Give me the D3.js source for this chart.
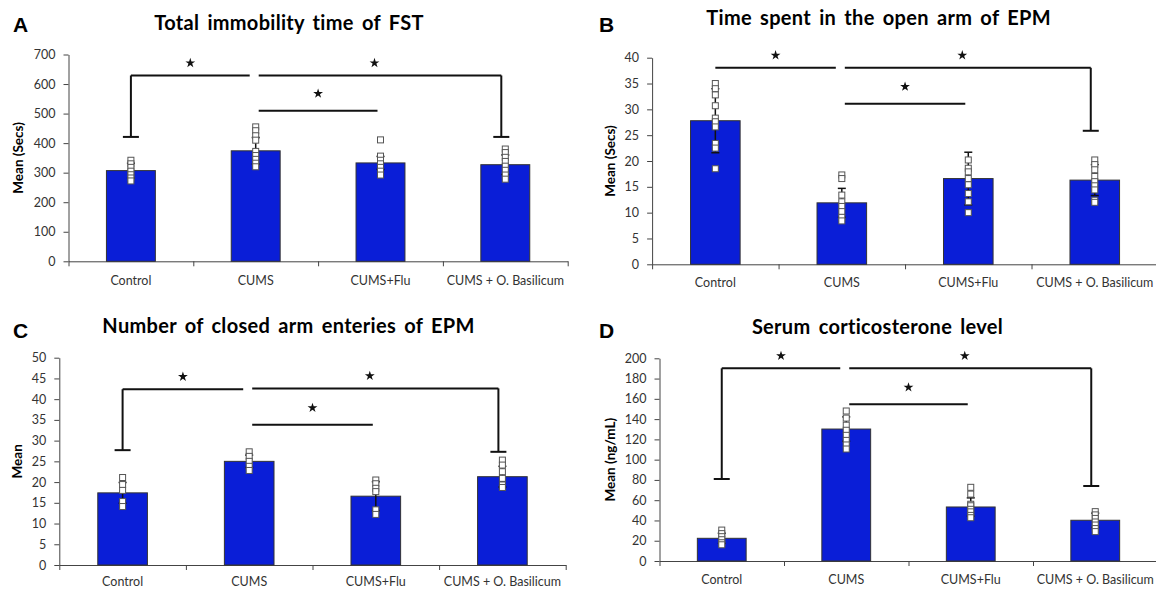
<!DOCTYPE html>
<html>
<head>
<meta charset="utf-8">
<script src="https://cdn.jsdelivr.net/npm/d3@7"></script>
<style>
body{margin:0;background:#fff}
svg{display:block;font-family:Lato,"Open Sans",sans-serif}
</style>
</head>
<body>
<svg width="1156" height="589"></svg>
<script>
const categories = ['Control', 'CUMS', 'CUMS+Flu', 'CUMS + O. Basilicum'];

// A - total immobility time of FST (secs)
const fstMeans = [307, 374, 333, 327];
const fstSD = [25, 45, 22, 33];
const fstPoints = [
  [342, 330, 318, 305, 293, 282, 272],
  [455, 442, 425, 410, 372, 358, 345, 332, 320],
  [411, 356, 342, 330, 318, 305, 292],
  [380, 368, 352, 338, 322, 308, 292, 278]
];
const fstTicks = [0, 100, 200, 300, 400, 500, 600, 700];
const fstBrackets = [
  {a: 0, b: 1, level: 629, capA: 421, kind: 'left'},
  {a: 1, b: 3, level: 629, capB: 421, kind: 'right'},
  {a: 1, b: 2, level: 510, kind: 'mid'}
];

// B - time spent in the open arm of EPM (secs)
const openMeans = [27.8, 11.9, 16.6, 16.3];
const openSD = [6.2, 2.8, 5.1, 3.0];
const openPoints = [
  [35, 34, 32.8, 30.7, 28.3, 27.6, 26.6, 23.4, 22.5, 18.5],
  [17.3, 16.6, 13.4, 12.1, 11.2, 10.2, 9.1, 8.4],
  [20.2, 18.6, 17.9, 16.6, 15.4, 13.7, 12.1, 10.0],
  [20.2, 19.3, 18.3, 17.0, 16.0, 15.2, 14.4, 12.4, 12.0]
];
const openTicks = [0, 5, 10, 15, 20, 25, 30, 35, 40];
const openBrackets = [
  {a: 0, b: 1, level: 38.05, kind: 'left'},
  {a: 1, b: 3, level: 38.05, capB: 25.85, kind: 'right'},
  {a: 1, b: 2, level: 31.1, kind: 'mid'}
];

// C - number of closed arm entries of EPM
const closedMeans = [17.4, 25.0, 16.6, 21.3];
const closedSD = [2.5, 1.5, 3.5, 2.5];
const closedPoints = [
  [21.1, 19.4, 18.0, 15.3, 14.1],
  [27.3, 26.2, 25.0, 23.8, 22.8],
  [20.5, 19.6, 18.5, 17.7, 13.3, 12.2],
  [25.3, 24.1, 22.5, 20.9, 19.3, 18.7]
];
const closedTicks = [0, 5, 10, 15, 20, 25, 30, 35, 40, 45, 50];
const closedBrackets = [
  {a: 0, b: 1, level: 42.4, capA: 27.7, kind: 'left'},
  {a: 1, b: 3, level: 42.6, capB: 27.3, kind: 'right'},
  {a: 1, b: 2, level: 33.8, kind: 'mid'}
];

// D - serum corticosterone (ng/mL)
const cortMeans = [22.4, 130.2, 53.3, 40.2];
const cortSD = [5, 12, 9, 7];
const cortPoints = [
  [30.5, 27, 24, 21, 18, 16],
  [148, 141, 134, 129, 124, 119, 114.5, 110.5],
  [72.7, 66, 56, 54.5, 51, 48.5, 45, 42.7],
  [48.7, 45.5, 42, 38.5, 35.5, 32, 29]
];
const cortTicks = [0, 20, 40, 60, 80, 100, 120, 140, 160, 180, 200];
const cortBrackets = [
  {a: 0, b: 1, level: 190.1, capA: 80.9, kind: 'left'},
  {a: 1, b: 3, level: 190.1, capB: 74, kind: 'right'},
  {a: 1, b: 2, level: 154.6, kind: 'mid'}
];

const panels = [
  {letter: 'A', title: 'Total immobility time of FST', yLabel: 'Mean (Secs)',
   means: fstMeans, sds: fstSD, points: fstPoints, ticks: fstTicks, brackets: fstBrackets,
   x0: 68.5, x1: 567.7, yTop: 54.5, yBot: 261.3, titleX: 289, titleY: 30,
   letterX: 13, letterY: 31.7, yLabelX: 20, labelPad: 15},
  {letter: 'B', title: 'Time spent in the open arm of EPM', yLabel: 'Mean (Secs)',
   means: openMeans, sds: openSD, points: openPoints, ticks: openTicks, brackets: openBrackets,
   x0: 652.1, x1: 1158, yTop: 57.7, yBot: 264.3, titleX: 878.6, titleY: 25,
   letterX: 599, letterY: 31.7, yLabelX: 611.3, labelPad: 14},
  {letter: 'C', title: 'Number of closed arm enteries of EPM', yLabel: 'Mean',
   means: closedMeans, sds: closedSD, points: closedPoints, ticks: closedTicks, brackets: closedBrackets,
   x0: 59.3, x1: 565.7, yTop: 357.7, yBot: 565, titleX: 288.5, titleY: 333.3,
   letterX: 13, letterY: 338.3, yLabelX: 18.5, labelPad: 12.5},
  {letter: 'D', title: 'Serum corticosterone level', yLabel: 'Mean (ng/mL)',
   means: cortMeans, sds: cortSD, points: cortPoints, ticks: cortTicks, brackets: cortBrackets,
   x0: 659.5, x1: 1157.5, yTop: 358.3, yBot: 561, titleX: 877.5, titleY: 334.3,
   letterX: 599, letterY: 338.3, yLabelX: 611.3, labelPad: 14}
];

const svg = d3.select('svg');
const barColor = '#0a1ed7';
const axisColor = '#444';

const drawPanel = (p) => {
  const g = svg.append('g');
  const x = d3.scaleBand().domain(categories).range([p.x0, p.x1]);
  const y = d3.scaleLinear().domain([0, d3.max(p.ticks)]).range([p.yBot, p.yTop]);
  const cx = i => x(categories[i]) + x.bandwidth() / 2;
  const barW = x.bandwidth() * 0.392;

  // letter + title
  g.append('text')
    .attr('x', p.letterX).attr('y', p.letterY)
    .style('font-family', '"Liberation Sans", Arial, sans-serif')
    .style('font-weight', 'bold').style('font-size', '21px')
    .text(p.letter);
  g.append('text')
    .attr('x', p.titleX).attr('y', p.titleY)
    .attr('text-anchor', 'middle')
    .style('font-weight', 'bold').style('font-size', '20px')
    .style('letter-spacing', '0.3px').style('word-spacing', '3px')
    .text(p.title);

  // y axis
  const yAxis = g.append('g')
    .attr('transform', `translate(${p.x0},0)`)
    .call(d3.axisLeft(y).tickValues(p.ticks).tickSize(5).tickSizeOuter(0).tickPadding(8));
  yAxis.selectAll('text').style('font-size', '12.5px').style('font-family', 'Lato').attr('fill', '#333');
  yAxis.selectAll('line,path').attr('stroke', axisColor);

  // x axis: boundary ticks + labels
  const bounds = d3.scaleLinear().domain([0, categories.length]).range([p.x0, p.x1]);
  const xTicks = g.append('g')
    .attr('transform', `translate(0,${p.yBot})`)
    .call(d3.axisBottom(bounds).tickValues(d3.range(categories.length + 1)).tickFormat('').tickSize(5).tickSizeOuter(0));
  xTicks.selectAll('line,path').attr('stroke', axisColor);
  const xLabels = g.append('g')
    .attr('transform', `translate(0,${p.yBot})`)
    .call(d3.axisBottom(x).tickSize(0).tickPadding(p.labelPad));
  xLabels.select('.domain').remove();
  xLabels.selectAll('text').style('font-size', '12.5px').style('font-family', 'Lato').attr('fill', '#333');

  g.append('text')
    .attr('transform', `translate(${p.yLabelX},${(p.yTop + p.yBot) / 2}) rotate(-90)`)
    .attr('text-anchor', 'middle').attr('dominant-baseline', 'middle')
    .style('font-weight', 'bold').style('font-size', '13.5px')
    .text(p.yLabel);

  // bars
  g.selectAll('rect.bar').data(p.means).join('rect')
    .attr('class', 'bar')
    .attr('x', (d, i) => cx(i) - barW / 2)
    .attr('width', barW)
    .attr('y', d => y(d))
    .attr('height', d => y(0) - y(d))
    .attr('fill', barColor)
    .attr('stroke', '#333').attr('stroke-width', 1);

  // error bars (mean +- sd)
  const eb = g.selectAll('g.eb').data(p.means).join('g').attr('class', 'eb')
    .attr('stroke', '#111').attr('stroke-width', 1.5);
  eb.append('line')
    .attr('x1', (d, i) => cx(i)).attr('x2', (d, i) => cx(i))
    .attr('y1', (d, i) => y(d + p.sds[i])).attr('y2', (d, i) => y(d - p.sds[i]));
  eb.append('line')
    .attr('x1', (d, i) => cx(i) - 4).attr('x2', (d, i) => cx(i) + 4)
    .attr('y1', (d, i) => y(d + p.sds[i])).attr('y2', (d, i) => y(d + p.sds[i]));
  eb.append('line')
    .attr('x1', (d, i) => cx(i) - 4).attr('x2', (d, i) => cx(i) + 4)
    .attr('y1', (d, i) => y(d - p.sds[i])).attr('y2', (d, i) => y(d - p.sds[i]));

  // individual points
  const pts = p.points.flatMap((arr, i) => arr.map(v => ({i, v})));
  g.selectAll('rect.pt').data(pts).join('rect')
    .attr('class', 'pt')
    .attr('x', d => cx(d.i) - 3).attr('y', d => y(d.v) - 3)
    .attr('width', 6).attr('height', 6)
    .attr('fill', '#fff').attr('stroke', '#555').attr('stroke-width', 1);

  // significance brackets
  const offs = {left: [0, -6], right: [3, -4], mid: [3, -3]};
  p.brackets.forEach(b => {
    const xa = cx(b.a) + offs[b.kind][0];
    const xb = cx(b.b) + offs[b.kind][1];
    const yl = y(b.level);
    const br = g.append('g').attr('stroke', '#111').attr('stroke-width', 2).attr('fill', 'none');
    br.append('line').attr('x1', xa).attr('x2', xb).attr('y1', yl).attr('y2', yl);
    [[b.capA, xa], [b.capB, xb]].forEach(([cap, xc]) => {
      if (cap == null) return;
      br.append('line').attr('x1', xc).attr('x2', xc).attr('y1', yl).attr('y2', y(cap));
      br.append('line').attr('x1', xc - 8).attr('x2', xc + 8).attr('y1', y(cap)).attr('y2', y(cap));
    });
    const sx = b.kind === 'right' ? (cx(b.a) + cx(b.b)) / 2 - 6 : (xa + xb) / 2;
    const sy = yl - (b.kind === 'mid' ? 17 : 12.5);
    g.append('path')
      .attr('d', d3.symbol(d3.symbolStar, 30)())
      .attr('transform', `translate(${sx},${sy})`)
      .attr('fill', '#111');
  });
};

panels.forEach(drawPanel);
</script>
</body>
</html>
